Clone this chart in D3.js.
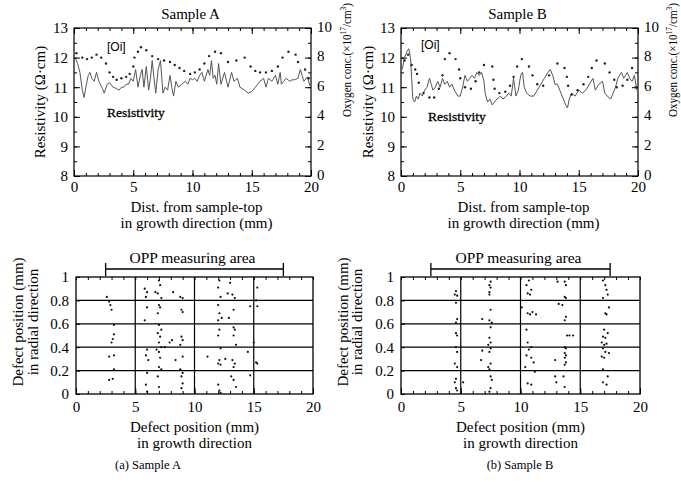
<!DOCTYPE html>
<html>
<head>
<meta charset="utf-8">
<script src="https://cdn.jsdelivr.net/npm/d3@7"></script>
<style>
  body { margin: 0; background: #fff; }
  text { fill: #000; }
</style>
</head>
<body>
<div id="viz"></div>
<script>
var W = 681, H = 486;
var serif = '"Liberation Serif", "Times New Roman", serif';

// resistivity (ohm.cm) along growth direction, [mm, value]
var resA = [[0.1,12.0],[0.3,11.8],[0.5,11.5],[0.7,10.9],[0.85,10.65],[1.0,11.0],[1.2,11.4],[1.35,11.5],[1.5,11.3],[1.7,11.2],[1.9,11.5],[2.1,11.2],[2.4,10.95],[2.55,10.8],[2.8,11.1],[3.0,11.15],[3.3,11.0],[3.6,10.95],[3.8,10.9],[4.0,11.0],[4.2,11.0],[4.4,11.1],[4.6,11.1],[4.8,11.3],[5.0,11.2],[5.2,11.6],[5.4,11.0],[5.6,11.4],[5.75,11.6],[5.9,11.0],[6.1,11.7],[6.3,10.9],[6.45,11.3],[6.6,11.9],[6.75,11.3],[6.9,10.8],[7.1,11.6],[7.3,11.9],[7.5,10.8],[7.7,11.0],[7.9,10.9],[8.1,11.4],[8.25,11.0],[8.4,10.7],[8.6,11.2],[8.8,11.0],[9.1,11.1],[9.4,11.2],[9.6,11.1],[9.8,11.3],[10.0,11.25],[10.2,11.3],[10.4,11.2],[10.6,11.4],[10.8,11.5],[11.0,11.2],[11.3,11.6],[11.45,11.4],[11.6,11.9],[11.75,11.3],[11.9,11.4],[12.05,11.1],[12.2,11.8],[12.4,11.1],[12.7,11.5],[13.0,11.0],[13.3,11.5],[13.5,11.2],[13.8,11.3],[14.0,11.0],[14.4,10.9],[14.7,10.8],[15.0,10.85],[15.3,11.0],[15.5,11.1],[15.7,11.2],[16.0,11.3],[16.2,11.0],[16.4,11.3],[16.7,11.2],[17.0,11.4],[17.2,11.1],[17.4,11.5],[17.5,11.1],[17.7,11.2],[17.9,11.3],[18.2,11.2],[18.4,11.25],[18.6,11.25],[18.9,11.3],[19.1,11.6],[19.25,11.4],[19.4,11.2],[19.7,11.35],[19.9,11.05]];
var resB = [[0.1,11.6],[0.3,12.0],[0.5,12.2],[0.65,12.3],[0.8,12.0],[0.9,11.3],[1.0,10.6],[1.15,10.5],[1.3,10.7],[1.45,10.6],[1.6,10.8],[1.8,10.7],[2.0,10.9],[2.2,11.0],[2.4,11.3],[2.55,11.1],[2.7,10.9],[2.9,11.0],[3.1,11.2],[3.3,11.0],[3.5,11.3],[3.7,11.1],[3.9,11.2],[4.1,11.0],[4.3,11.1],[4.5,10.9],[4.8,10.7],[5.0,10.7],[5.2,11.0],[5.4,11.4],[5.6,11.2],[5.8,11.3],[6.0,11.4],[6.2,11.3],[6.4,11.5],[6.6,11.4],[6.8,11.5],[7.0,11.2],[7.1,10.8],[7.3,10.5],[7.5,10.6],[7.7,10.4],[7.9,10.5],[8.1,10.6],[8.4,10.7],[8.6,10.6],[8.9,10.7],[9.1,10.8],[9.3,10.7],[9.5,11.3],[9.7,10.7],[9.9,10.9],[10.1,11.4],[10.25,11.5],[10.4,11.0],[10.6,10.8],[10.9,10.7],[11.2,10.7],[11.5,10.9],[11.8,11.1],[12.1,11.3],[12.4,11.5],[12.6,11.6],[12.8,11.4],[13.0,11.1],[13.2,11.1],[13.4,10.9],[13.7,10.6],[13.9,10.4],[14.05,10.3],[14.2,10.6],[14.4,10.8],[14.7,10.7],[15.0,10.9],[15.3,10.8],[15.6,10.9],[15.9,11.1],[16.2,11.3],[16.4,10.9],[16.7,11.1],[17.0,11.2],[17.2,10.8],[17.4,10.7],[17.7,10.6],[17.9,10.8],[18.1,11.0],[18.3,11.3],[18.6,11.5],[18.8,11.3],[19.1,11.5],[19.3,11.3],[19.5,11.2],[19.7,11.4],[19.9,10.9]];

// interstitial oxygen [Oi] (x10^17 /cm3), [mm, value]
var oiA = [[0.2,8.3],[0.7,8.0],[1.1,7.9],[1.5,8.0],[1.9,8.2],[2.3,8.0],[2.7,7.6],[3.0,7.0],[3.3,6.7],[3.6,6.5],[4.0,6.6],[4.4,6.7],[4.7,6.9],[5.0,7.4],[5.1,8.0],[5.4,8.4],[5.65,8.7],[6.1,8.5],[6.6,8.1],[7.1,7.9],[7.6,7.8],[8.1,7.7],[8.5,7.5],[8.9,7.3],[9.3,7.1],[9.8,6.9],[10.2,7.0],[10.6,7.2],[11.0,7.6],[11.4,8.1],[11.9,8.4],[12.4,8.3],[13.0,7.7],[13.7,7.8],[14.4,8.0],[14.9,7.4],[15.3,7.1],[15.7,7.0],[16.2,7.0],[16.7,7.1],[17.2,7.4],[17.6,8.0],[18.1,8.4],[18.7,8.2],[18.9,7.7],[19.5,7.2],[19.8,6.6]];
var oiB = [[0.3,7.8],[0.6,8.2],[0.9,7.5],[1.2,7.2],[1.35,6.9],[1.5,6.3],[1.9,5.6],[2.4,5.3],[2.8,5.3],[3.2,5.9],[3.5,6.8],[3.7,7.9],[4.1,8.3],[4.6,7.9],[4.9,7.2],[5.0,6.6],[5.4,6.0],[5.9,5.9],[6.3,6.4],[6.6,7.0],[7.0,7.5],[7.7,7.4],[7.8,6.5],[7.9,5.9],[8.3,5.6],[8.8,5.7],[9.2,6.1],[9.5,6.7],[9.8,7.4],[10.2,7.9],[10.8,7.4],[11.1,6.8],[11.5,6.2],[12.0,6.1],[12.5,6.8],[13.2,7.6],[13.8,7.3],[14.0,6.7],[14.1,6.1],[14.4,5.5],[14.9,5.8],[15.4,6.2],[15.8,6.7],[16.1,7.3],[16.5,7.8],[17.2,7.6],[17.6,7.0],[18.0,6.5],[18.2,6.0],[18.7,6.1],[19.1,6.5],[19.5,7.3],[19.8,6.0]];

// OPP defect positions [growth mm, radial mm]
var defectsA = [[2.6,0.83],[2.8,0.79],[2.9,0.76],[3.0,0.72],[3.2,0.59],[3.2,0.51],[3.1,0.47],[3.0,0.44],[2.8,0.32],[3.2,0.33],[3.2,0.21],[2.8,0.12],[3.1,0.13],
  [5.8,0.9],[6.0,0.87],[5.9,0.83],[6.0,0.74],[5.8,0.63],[6.0,0.38],[5.9,0.33],[6.1,0.29],[6.0,0.18],[5.9,0.08],[6.0,0.02],
  [7.0,0.97],[7.1,0.93],[6.9,0.86],[7.2,0.82],[7.0,0.76],[7.1,0.74],[6.9,0.69],[7.0,0.59],[7.2,0.55],[6.9,0.52],[7.1,0.49],[7.0,0.44],[7.2,0.40],[6.8,0.38],[7.0,0.36],[7.1,0.31],[7.0,0.23],[7.2,0.21],[6.9,0.15],[7.0,0.06],
  [6.7,0.87],[8.2,0.87],[7.9,0.44],[7.5,0.40],[8.4,0.29],[8.1,0.46],
  [8.8,0.83],[9.0,0.82],[8.9,0.72],[9.0,0.70],[8.9,0.49],[9.0,0.46],[8.8,0.42],[9.0,0.32],[8.8,0.21],[9.0,0.18],[8.9,0.15],[9.0,0.09],[8.9,0.05],
  [12.1,0.97],[12.0,0.91],[12.2,0.83],[12.0,0.76],[12.1,0.69],[12.3,0.65],[12.0,0.63],[12.1,0.55],[12.0,0.5],[12.2,0.39],[12.1,0.29],[12.0,0.26],[12.2,0.25],[12.0,0.08],[12.1,0.03],[12.2,0.01],
  [13.0,0.95],[12.8,0.86],[13.2,0.85],[13.4,0.82],[13.3,0.72],[12.9,0.65],[13.3,0.57],[13.4,0.55],[13.3,0.50],[13.5,0.42],[13.2,0.29],[13.4,0.26],[13.3,0.23],[13.1,0.15],[13.3,0.12],[13.5,0.06],
  [11.1,0.32],[12.6,0.30],
  [15.3,0.91],[15.2,0.80],[15.3,0.75],[14.7,0.75],[15.0,0.44],[15.2,0.27],[15.3,0.26],[14.5,0.36],[14.7,0.16]];
var defectsB = [[4.6,0.88],[4.5,0.85],[4.7,0.84],[4.6,0.78],[4.7,0.64],[4.6,0.61],[4.6,0.52],[4.7,0.50],[4.6,0.40],[4.7,0.36],[4.5,0.26],[4.7,0.23],[4.6,0.13],[4.5,0.10],[4.6,0.05],[4.7,0.03],[5.2,0.10],
  [7.5,0.96],[7.4,0.93],[7.5,0.91],[7.4,0.87],[7.4,0.85],[7.5,0.72],[7.4,0.63],[7.6,0.61],[7.5,0.57],[7.4,0.48],[7.5,0.44],[7.3,0.42],[7.5,0.39],[7.4,0.36],[7.5,0.26],[7.3,0.23],[7.4,0.21],[7.5,0.15],[7.6,0.12],[7.5,0.05],[7.4,0.02],[6.8,0.64],[6.8,0.37],[6.7,0.29],
  [10.7,0.97],[10.5,0.93],[10.9,0.89],[10.6,0.86],[10.8,0.85],[10.1,0.74],[10.6,0.69],[10.8,0.68],[10.5,0.55],[10.6,0.44],[10.9,0.40],[10.7,0.38],[10.5,0.33],[10.9,0.31],[10.4,0.23],[10.6,0.09],[10.9,0.08],[11.0,0.70],[11.3,0.68],[11.1,0.27],[11.2,0.19],
  [13.7,0.96],[13.8,0.93],[13.7,0.83],[13.8,0.82],[13.8,0.66],[13.7,0.63],[13.9,0.50],[13.7,0.40],[13.8,0.39],[13.7,0.35],[13.8,0.33],[13.7,0.31],[13.8,0.27],[13.7,0.25],[13.1,0.96],[14.1,0.50],[14.4,0.50],[12.9,0.29],[12.9,0.15],[13.0,0.10],[13.6,0.15],[13.7,0.06],[13.2,0.77],[13.5,0.76],
  [16.9,0.97],[17.1,0.93],[17.2,0.89],[17.3,0.85],[16.9,0.82],[17.1,0.69],[17.2,0.68],[17.0,0.55],[17.3,0.52],[16.9,0.49],[17.1,0.48],[16.8,0.44],[17.2,0.43],[17.0,0.42],[16.9,0.39],[17.1,0.36],[17.4,0.35],[16.8,0.32],[17.0,0.31],[16.9,0.21],[17.3,0.15],[16.9,0.10],[17.4,0.74],[17.2,0.08]];

var distTicks = [0, 5, 10, 15, 20];
var resTicks = [8, 9, 10, 11, 12, 13];
var oxyTicks = [0, 2, 4, 6, 8, 10];
var radTicks = [0, 0.2, 0.4, 0.6, 0.8, 1];
var oppArea = [2.5, 17.5];

var svg = d3.select('#viz').append('svg')
  .attr('width', W).attr('height', H)
  .attr('font-family', serif);

var fmt = function(d) { return String(d); };

function styleAxis(g, size) {
  g.attr('font-family', serif).attr('font-size', size);
  g.select('.domain').remove();
  g.selectAll('line').attr('stroke', '#000');
}

function rotLabel(x, y, size) {
  return svg.append('text')
    .attr('transform', 'translate(' + x + ',' + y + ') rotate(-90)')
    .attr('text-anchor', 'middle')
    .attr('font-size', size);
}

function oxyLabel(x, y) {
  var t = rotLabel(x, y, 13.5)
    .attr('textLength', 114).attr('lengthAdjust', 'spacingAndGlyphs');
  t.append('tspan').text('Oxygen conc.(\u00d710');
  t.append('tspan').attr('dy', -5).attr('font-size', 9).text('17');
  t.append('tspan').attr('dy', 5).text('/cm');
  t.append('tspan').attr('dy', -5).attr('font-size', 9).text('3');
  t.append('tspan').attr('dy', 5).text(')');
}

function topPanel(x0, x1, title, res, oi, oiPos, resPos) {
  var top = 28, bot = 176;
  var x = d3.scaleLinear().domain([0, 20]).range([x0, x1]);
  var yL = d3.scaleLinear().domain([8, 13]).range([bot, top]);
  var yR = d3.scaleLinear().domain([0, 10]).range([bot, top]);

  svg.append('g').attr('transform', 'translate(0,' + bot + ')')
    .call(d3.axisBottom(x).tickValues(distTicks).tickFormat(fmt).tickSizeInner(-6).tickSizeOuter(0).tickPadding(5))
    .call(styleAxis, 15);
  svg.append('g').attr('transform', 'translate(0,' + bot + ')')
    .call(d3.axisBottom(x).tickValues(d3.range(0, 21)).tickSizeInner(-3).tickSizeOuter(0).tickFormat(''))
    .call(styleAxis, 15);
  svg.append('g').attr('transform', 'translate(0,' + top + ')')
    .call(d3.axisTop(x).tickValues(d3.range(0, 21)).tickSizeInner(-3).tickSizeOuter(0).tickFormat(''))
    .call(styleAxis, 15);
  svg.append('g').attr('transform', 'translate(0,' + top + ')')
    .call(d3.axisTop(x).tickValues(distTicks).tickSizeInner(-6).tickSizeOuter(0).tickFormat(''))
    .call(styleAxis, 15);

  svg.append('g').attr('transform', 'translate(' + x0 + ',0)')
    .call(d3.axisLeft(yL).tickValues(resTicks).tickFormat(fmt).tickSizeInner(-6).tickSizeOuter(0).tickPadding(6))
    .call(styleAxis, 15);
  svg.append('g').attr('transform', 'translate(' + x0 + ',0)')
    .call(d3.axisLeft(yL).tickValues(d3.range(8, 13.01, 0.5)).tickSizeInner(-3).tickSizeOuter(0).tickFormat(''))
    .call(styleAxis, 15);
  svg.append('g').attr('transform', 'translate(' + x1 + ',0)')
    .call(d3.axisRight(yR).tickValues(oxyTicks).tickFormat(fmt).tickSizeInner(-6).tickSizeOuter(0).tickPadding(6))
    .call(styleAxis, 15)
    .selectAll('text').attr('dy', '0.2em');
  svg.append('g').attr('transform', 'translate(' + x1 + ',0)')
    .call(d3.axisRight(yR).tickValues(d3.range(0, 11)).tickSizeInner(-3).tickSizeOuter(0).tickFormat(''))
    .call(styleAxis, 15);

  svg.append('rect').attr('x', x0).attr('y', top)
    .attr('width', x1 - x0).attr('height', bot - top)
    .attr('fill', 'none').attr('stroke', '#000').attr('stroke-width', 1.2);

  svg.append('path').datum(res)
    .attr('fill', 'none').attr('stroke', '#555').attr('stroke-width', 1)
    .attr('d', d3.line().x(function(d) { return x(d[0]); }).y(function(d) { return yL(d[1]); }));

  svg.append('g').selectAll('circle').data(oi).enter().append('circle')
    .attr('cx', function(d) { return x(d[0]); })
    .attr('cy', function(d) { return yR(d[1]); })
    .attr('r', 1.2).attr('fill', '#222');

  svg.append('text').attr('x', (x0 + x1) / 2 - 2).attr('y', 19)
    .attr('text-anchor', 'middle').attr('font-size', 15).text(title);
  svg.append('text').attr('x', oiPos[0]).attr('y', oiPos[1])
    .attr('font-size', 12).attr('font-family', '"Liberation Sans", Arial, sans-serif').text('[Oi]');
  svg.append('text').attr('x', resPos[0]).attr('y', resPos[1])
    .attr('font-size', 13.5).attr('stroke', '#000').attr('stroke-width', 0.3).text('Resistivity');
  svg.append('text').attr('x', (x0 + x1) / 2 + 4).attr('y', 212)
    .attr('text-anchor', 'middle').attr('font-size', 15).text('Dist. from sample-top');
  svg.append('text').attr('x', (x0 + x1) / 2 + 4).attr('y', 228)
    .attr('text-anchor', 'middle').attr('font-size', 15).text('in growth direction (mm)');
}

function bottomPanel(x0, x1, defects) {
  var top = 277, bot = 394;
  var x = d3.scaleLinear().domain([0, 20]).range([x0, x1]);
  var y = d3.scaleLinear().domain([0, 1]).range([bot, top]);

  svg.append('g').attr('transform', 'translate(0,' + bot + ')')
    .call(d3.axisBottom(x).tickValues(distTicks).tickFormat(fmt).tickSizeInner(-6).tickSizeOuter(0).tickPadding(7))
    .call(styleAxis, 15);
  svg.append('g').attr('transform', 'translate(0,' + bot + ')')
    .call(d3.axisBottom(x).tickValues(d3.range(0, 21)).tickSizeInner(-3).tickSizeOuter(0).tickFormat(''))
    .call(styleAxis, 15);
  svg.append('g').attr('transform', 'translate(0,' + top + ')')
    .call(d3.axisTop(x).tickValues(d3.range(0, 21)).tickSizeInner(-3).tickSizeOuter(0).tickFormat(''))
    .call(styleAxis, 15);
  svg.append('g').attr('transform', 'translate(' + x0 + ',0)')
    .call(d3.axisLeft(y).tickValues(radTicks).tickSizeInner(-4).tickSizeOuter(0).tickPadding(7).tickFormat(fmt))
    .call(styleAxis, 15);

  // grid
  svg.append('g').selectAll('line').data([5, 10, 15]).enter().append('line')
    .attr('x1', function(d) { return x(d); }).attr('x2', function(d) { return x(d); })
    .attr('y1', top).attr('y2', bot).attr('stroke', '#000').attr('stroke-width', 1.2);
  svg.append('g').selectAll('line').data([0.2, 0.4, 0.6, 0.8]).enter().append('line')
    .attr('x1', x0).attr('x2', x1)
    .attr('y1', function(d) { return y(d); }).attr('y2', function(d) { return y(d); })
    .attr('stroke', '#000').attr('stroke-width', 1.3);

  svg.append('rect').attr('x', x0).attr('y', top)
    .attr('width', x1 - x0).attr('height', bot - top)
    .attr('fill', 'none').attr('stroke', '#000').attr('stroke-width', 1.3);

  svg.append('g').selectAll('circle').data(defects).enter().append('circle')
    .attr('cx', function(d) { return x(d[0]); })
    .attr('cy', function(d) { return y(d[1]); })
    .attr('r', 1.1).attr('fill', '#111');

  // OPP measuring area bracket
  var by = 269;
  svg.append('path')
    .attr('d', 'M' + x(oppArea[0]) + ',' + (by - 6) + 'V' + (by + 7) + 'M' + x(oppArea[0]) + ',' + by +
      'H' + x(oppArea[1]) + 'M' + x(oppArea[1]) + ',' + (by - 6) + 'V' + (by + 7))
    .attr('fill', 'none').attr('stroke', '#000').attr('stroke-width', 1.3);
  svg.append('text').attr('x', x(10) - 2).attr('y', 263)
    .attr('text-anchor', 'middle').attr('font-size', 15.5).text('OPP measuring area');

  svg.append('text').attr('x', (x0 + x1) / 2).attr('y', 432)
    .attr('text-anchor', 'middle').attr('font-size', 15).text('Defect position (mm)');
  svg.append('text').attr('x', (x0 + x1) / 2).attr('y', 448)
    .attr('text-anchor', 'middle').attr('font-size', 15).text('in growth direction');
}

topPanel(74, 311, 'Sample A', resA, oiA, [107, 51], [107, 117]);
topPanel(401, 638, 'Sample B', resB, oiB, [421, 49], [428, 121]);
bottomPanel(76, 313, defectsA);
bottomPanel(401, 640, defectsB);

rotLabel(45, 102, 15).text('Resistivity (\u03a9\u00b7cm)');
rotLabel(373, 102, 15).text('Resistivity (\u03a9\u00b7cm)');
oxyLabel(351, 60);
oxyLabel(677, 60);

rotLabel(23, 322, 15).text('Defect position (mm)');
rotLabel(38, 322, 15).text('in radial direction');
rotLabel(348, 322, 15).text('Defect position (mm)');
rotLabel(362, 322, 15).text('in radial direction');

svg.append('text').attr('x', 148).attr('y', 469).attr('text-anchor', 'middle')
  .attr('font-size', 12.5).text('(a) Sample A');
svg.append('text').attr('x', 520).attr('y', 469).attr('text-anchor', 'middle')
  .attr('font-size', 12.5).text('(b) Sample B');
</script>
</body>
</html>
